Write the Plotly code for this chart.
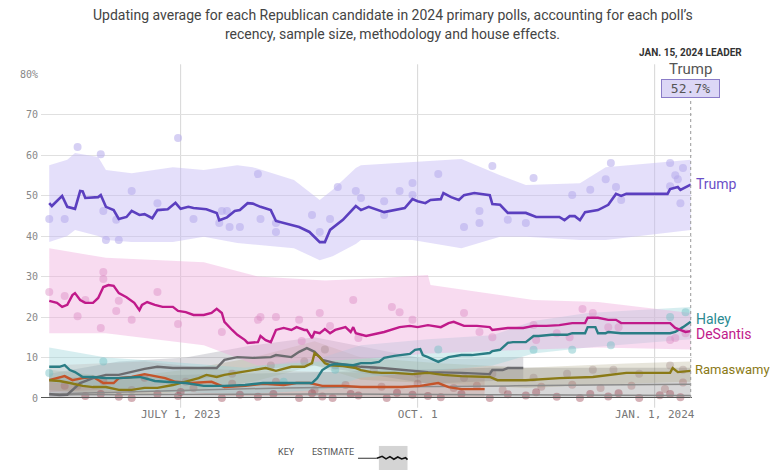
import plotly.graph_objects as go

# ---------------- data (x = days since July 1, 2023) ----------------
tick_days = [0, 92, 184]
tick_labels = ["JULY 1, 2023", "OCT. 1", "JAN. 1, 2024"]
y_ticks = [0, 10, 20, 30, 40, 50, 60, 70, 80]
y_tick_labels = ["0", "10", "20", "30", "40", "50", "60", "70", "80%"]

trump_days = [-51,-50,-46,-44,-41,-39,-38,-37,-32,-31,-29,-26,-24,-21,-19,-16,-14,-11,-9,-5,
              -2,0,3,5,10,14,15,18,21,23,26,28,31,35,37,40,44,46,50,54,
              56,58,63,68,70,73,79,87,90,92,95,97,101,102,105,108,110,114,120,121,
              124,127,134,138,147,149,151,153,155,157,162,166,169,171,173,189,190,193,194,198]
trump_vals = [48.1,47.4,49.9,47.2,46.7,51.1,51.0,49.4,49.6,50.1,47.2,46.4,44.2,44.7,46.2,45.2,45.4,44.4,46.4,46.6,
              48.2,46.7,47.2,46.9,46.6,45.7,43.9,44.6,46.2,46.4,48.1,48.0,47.2,46.4,43.7,43.2,42.5,42.2,41.0,38.5,
              38.5,41.5,44.0,47.4,46.4,47.2,45.9,46.9,49.1,48.6,48.1,48.9,49.1,50.6,49.6,48.9,50.1,50.6,50.1,47.9,
              47.7,45.7,45.7,44.7,44.7,43.9,44.9,44.9,43.9,45.9,46.4,47.7,50.4,49.9,50.4,50.4,51.6,52.1,51.4,52.7]

desantis_days = [-51,-48,-46,-44,-42,-41,-39,-37,-34,-32,-30,-28,-26,-24,-21,-18,-16,-15,-13,-10,
                 -7,-3,-1,2,5,9,12,14,16,17,20,22,25,26,30,31,33,35,37,40,
                 43,45,48,49,51,52,54,56,58,60,64,66,67,68,72,77,79,85,89,92,
                 96,101,104,106,110,115,120,121,123,124,127,133,137,142,147,152,155,157,158,162,
                 166,169,171,190,192,194,196,198]
desantis_vals = [24,23.5,22.5,23,25.4,25.9,24.2,23.5,23.5,24.7,27.4,27.9,27.7,25.9,24.9,23.5,21.7,23,23.7,23,
                 22.5,22.5,21.5,21.2,20.5,20.5,21,22,21,18.8,16.8,15.6,14.3,13.6,13.8,15.3,14.3,13.8,16.8,17.3,
                 16.8,17.5,16.8,16.8,14.8,16.3,16,17,16,16.8,17.5,16.3,17.5,16,15.3,16,16.3,17.5,17.8,17.5,
                 18,17.5,18.5,18.8,17.8,17.8,17.5,16.8,17,17,17.3,17.3,17.8,17.8,18,18.5,18.5,18.5,19.8,19.8,
                 19.3,19.3,18.5,18.5,17.3,16.8,16.3,16.5]

haley_days = [-51,-47,-45,-43,-41,-38,-34,-29,-24,-19,-16,-14,-10,-6,2,9,17,25,32,40,
              48,51,53,55,58,60,67,70,74,77,79,83,89,91,93,94,96,98,100,104,
              109,113,120,121,124,127,129,134,136,137,139,144,150,152,155,157,158,161,162,165,
              166,171,190,192,195,198]
haley_vals = [7.7,7.7,8.1,6.9,6.4,5.2,5.2,4.9,4.9,5.2,5.2,4.9,4.2,4.0,3.7,3.0,3.0,3.2,3.7,3.7,
              3.7,3.7,4.9,6.9,8.1,8.4,8.1,8.6,8.6,8.9,9.9,10.4,10.9,11.9,12.1,10.6,10.1,9.4,8.9,10.1,
              10.6,10.6,11.1,11.6,11.9,13.6,13.8,13.8,14.8,15.3,15.3,15.6,15.6,16,16,16,17.5,17.5,16,16,
              16.3,16,16,16.3,17.5,18.8]

rama_days = [-51,-47,-43,-38,-34,-29,-24,-19,-14,-9,-3,2,7,10,14,17,22,28,33,37,
             43,48,51,52,54,56,58,63,68,70,74,78,83,90,96,102,109,120,121,123,
             134,147,160,167,173,190,191,193,198]
rama_vals = [4.4,4.2,3.7,3.0,2.7,2.7,2.0,2.0,2.5,2.5,3.2,4.0,4.9,5.7,5.2,5.7,6.2,6.9,7.4,6.7,
             7.7,7.7,8.6,11.1,10.1,8.6,8.1,7.9,7.4,6.9,6.4,6.2,6.2,5.9,6.2,5.7,5.4,5.2,4.9,4.4,
             4.4,4.9,5.2,5.7,6.2,6.2,7.4,6.4,6.7]

gray_days = [-51,-47,-44,-39,-34,-29,-24,-19,-14,-9,-3,2,7,14,17,22,28,35,37,43,
             46,49,52,55,60,67,70,78,86,96,109,120,121,125,127,133]
gray_vals = [1.0,0.7,0.8,3.7,4.9,5.7,5.7,6.4,7.2,7.7,7.4,7.4,7.4,7.4,9.4,10.1,9.9,10.1,10.6,10.1,
             11.4,12.3,11.4,9.4,8.6,8.1,7.7,7.4,6.9,6.4,6.2,5.9,6.9,6.9,7.4,7.4]

pence_days = [-51,-48,-45,-42,-38,-34,-30,-26,-24,-19,-14,-10,-6,-2,4,12,17,25,32,40,
              45,50,55,63,70,78,86,93,100,104,109,118]
pence_vals = [4.4,4.9,5.4,4.4,4.9,5.2,3.7,3.7,4.9,5.2,5.9,5.4,4.9,4.0,3.7,4.0,2.7,3.0,3.5,3.2,
              3.7,3.7,3.0,3.0,2.7,2.7,2.7,3.0,3.7,2.7,2.2,2.2]

christie_days = [-51,-20,10,40,70,100,130,160,198]
christie_vals = [1.0,1.5,2.0,2.5,2.7,2.8,3.0,3.2,3.4]
minor_days = [-51,0,60,120,198]
minor_vals = [0.8,0.9,1.0,0.8,0.6]

# uncertainty bands
trump_band_days = [-51,-44,-41,-32,-29,-19,-3,9,22,28,44,54,59,68,70,90,109,124,134,155,165,198]
trump_upper = [57.5,58.8,60.5,59.5,56.3,55.5,57,56.3,57.5,57,53.8,48.9,51.4,56.8,57.5,58.3,59,55,52.6,53,57,58.8]
trump_lower = [38.5,40,41.5,40,39,38.5,38.5,39.8,38.3,38,37,34,35,38,39,39,37,39.8,39.8,39,39,41.5]

desantis_band_days = [-51,-29,9,30,56,78,96,97,137,162,198]
desantis_upper = [37,34.6,33.5,30,29,29.6,30.4,27.9,24.2,23.7,21]
desantis_lower = [16,16,13,8,9,10,11,11,12,12.5,12]

haley_band_days = [-51,-29,-6,25,55,70,96,121,137,158,198]
haley_upper = [12.5,10,9,7.5,10,13,14.5,15.5,19,21,22.5]
haley_lower = [4,2,1.5,1,2,5,6.5,8,11,12.5,14.5]

rama_band_days = [-51,-24,2,28,52,70,102,134,173,198]
rama_upper = [7,5,7,10,14,10,8.5,7.5,8.5,9]
rama_lower = [2,0.5,1.5,4,8,4.5,3.5,2.5,3.5,4]

gray_band_days = [-51,-24,2,28,52,96,133]
gray_upper = [6,9,10,13,15,9.5,10]
gray_lower = [0,2,4,7,8,3.5,4.5]

pence_band_days = [-51,-14,17,55,109,118]
pence_upper = [8,9,7,6.5,5.5,5.5]
pence_lower = [1.5,2.5,0.5,0.5,0,0]

misc_band_days = [-51,60,120,198]
misc_upper = [5,6.5,7.5,7.5]
misc_lower = [0,0,0,0]

# poll dots
trump_poll_days = [-51,-45,-40,-31,-19,-9,-1,5,15,16,18,19,23,30,31,-30,-25,-29,-24,37,
                   37,51,54,58,61,68,70,79,79,85,90,90,100,110,116,116,121,127,134,137,
                   152,159,165,167,169,171,190,192,193,195,194,190]
trump_poll_vals = [44.2,44.2,62,60.2,51.1,48.1,64.2,44.2,43.2,46.2,46.2,42.2,42.2,55.3,44.2,46.2,44,39,39,43.2,
                   41,45.2,41,44.2,52.1,51.1,49.4,48.6,45.2,51.1,53.1,50.1,55.3,42.2,46.2,43.2,57.3,44,43.2,54.3,
                   50.1,51.4,54,58,52.1,48.9,58,55,54,56.8,48.1,52.3]
desantis_poll_days = [-51,-45,-40,-37,-31,-30,-30,-25,-24,-19,-9,-1,16,30,31,37,46,47,54,58,
                      67,69,82,85,90,110,116,121,137,138,146,151,156,160,166,170,190,192,196]
desantis_poll_vals = [26.2,25.2,20.2,24.2,17.3,31.1,29.4,21.5,24,19.3,26.2,18.3,16.3,19.3,20,20,19.3,14.1,21,17.8,
                      24.2,14.8,22.5,21.2,19.3,21,16.3,15,18,14.3,16,15,22,21,17.5,17.5,14.3,14.8,16]
haley_poll_days = [-51,-30,40,60,100,137,152,167,190,196]
haley_poll_vals = [6.2,9,4,7,12,11.9,11.9,13,20,21.2]
rama_poll_days = [-40,-19,2,20,35,48,56,60,75,92,110,121,137,150,160,168,178,190,195]
rama_poll_vals = [3,2,4,6,8,9,12,8,7,6,5,6,5,6,7,7,6,8,7]
mid_poll_days = [-45,-30,-14,5,20,37,52,64,78,92,106,115,125,140,152,163,175,188,195]
mid_poll_vals = [3,4.2,5,2.5,3.5,4,2,3.2,2.8,3.5,2.5,3,2,2.8,3.3,2.5,3,2.2,3.8]
low_poll_days = [-37,-31,-24,-19,-9,-1,0,16,23,30,36,46,51,55,59,66,69,80,84,90,
                 96,101,109,120,127,134,138,146,155,159,166,170,178,186,190,194]
low_poll_vals = [0.5,1,0.3,0,1,0.5,1.5,0,0.8,0.3,1,0,1.2,0.4,0,1,0.6,0,1.3,0.8,
                 0.5,0.2,1,0,0.9,0.6,1.4,0.3,0,1,0.4,1.2,0,0.7,1,0.2]

leader_name = "Trump"
leader_date = "JAN. 15, 2024 LEADER"
title_lines = ["Updating average for each Republican candidate in 2024 primary polls, accounting for each poll’s",
               "recency, sample size, methodology and house effects."]

# ---------------- figure ----------------
fig = go.Figure()

def band(days, up, lo, color):
    fig.add_trace(go.Scatter(x=days + days[::-1], y=up + lo[::-1], fill="toself",
                             fillcolor=color, line=dict(width=0), mode="lines",
                             hoverinfo="skip", showlegend=False))

band(misc_band_days, misc_upper, misc_lower, "rgba(110,110,115,0.28)")
band(pence_band_days, pence_upper, pence_lower, "rgba(190,120,110,0.22)")
band(gray_band_days, gray_upper, gray_lower, "rgba(120,120,135,0.25)")
band(rama_band_days, rama_upper, rama_lower, "rgba(160,150,110,0.25)")
band(haley_band_days, haley_upper, haley_lower, "rgba(150,210,215,0.38)")
band(desantis_band_days, desantis_upper, desantis_lower, "rgba(238,170,220,0.42)")
band(trump_band_days, trump_upper, trump_lower, "rgba(195,185,245,0.45)")

def dots(days, vals, color):
    fig.add_trace(go.Scatter(x=days, y=vals, mode="markers", cliponaxis=False,
                             marker=dict(size=8, color=color, line=dict(width=0)),
                             hoverinfo="skip", showlegend=False))

dots(low_poll_days, low_poll_vals, "rgba(150,60,75,0.4)")
dots(mid_poll_days, mid_poll_vals, "rgba(160,90,90,0.3)")
dots(rama_poll_days, rama_poll_vals, "rgba(150,120,120,0.3)")
dots(haley_poll_days, haley_poll_vals, "rgba(110,190,195,0.45)")
dots(desantis_poll_days, desantis_poll_vals, "rgba(220,140,195,0.45)")
dots(trump_poll_days, trump_poll_vals, "rgba(180,170,235,0.55)")

def line(days, vals, color, w=2.4):
    fig.add_trace(go.Scatter(x=days, y=vals, mode="lines", line=dict(color=color, width=w),
                             hoverinfo="skip", showlegend=False))

line(minor_days, minor_vals, "#8a8a8a", 1.5)
line(christie_days, christie_vals, "#8c8c8c", 1.5)
line(pence_days, pence_vals, "#c4542a")
line(gray_days, gray_vals, "#6c6c70")
line(rama_days, rama_vals, "#8a7a16")
line(haley_days, haley_vals, "#2a7d85")
line(desantis_days, desantis_vals, "#c01a8a")
line(trump_days, trump_vals, "#5b3fbf", 2.6)

# vertical date gridlines (extend beyond plot)
shapes = []
for d in tick_days:
    shapes.append(dict(type="line", xref="x", yref="paper", x0=d, x1=d, y0=-0.03, y1=1.03,
                       line=dict(color="#d6d6d6", width=1), layer="below"))
# baseline
shapes.append(dict(type="line", xref="paper", yref="y", x0=0, x1=1, y0=0, y1=0,
                   line=dict(color="#555", width=2)))
# leader dotted line
shapes.append(dict(type="line", xref="x", yref="y", x0=trump_days[-1], x1=trump_days[-1],
                   y0=0, y1=74.5, line=dict(color="#999", width=1, dash="dot")))
# key box
shapes.append(dict(type="rect", xref="paper", yref="paper", x0=0.519, x1=0.563, y0=-0.225, y1=-0.148,
                   fillcolor="#d4d4d4", line=dict(width=0)))
shapes.append(dict(type="line", xref="paper", yref="paper", x0=0.487, x1=0.516, y0=-0.186, y1=-0.186,
                   line=dict(color="#333", width=1)))
shapes.append(dict(type="path", xref="paper", yref="paper",
                   path="M0.516,-0.186 L0.524,-0.180 L0.530,-0.188 L0.536,-0.181 L0.542,-0.189 "
                        "L0.548,-0.182 L0.554,-0.188 L0.560,-0.184 L0.563,-0.190",
                   line=dict(color="#111", width=1.6)))

annotations = [
    dict(xref="paper", yref="paper", x=0.540, y=1.182, text=title_lines[0], showarrow=False,
         xanchor="center", yanchor="middle", font=dict(family="Roboto", size=14, color="#444")),
    dict(xref="paper", yref="paper", x=0.540, y=1.125, text=title_lines[1], showarrow=False,
         xanchor="center", yanchor="middle", font=dict(family="Roboto", size=14, color="#444")),
    dict(x=trump_days[-1], y=trump_vals[-1], text="Trump", xanchor="left", xshift=3, yshift=1,
         showarrow=False, font=dict(family="Roboto", size=14, color="#6a4fc7")),
    dict(x=haley_days[-1], y=haley_vals[-1], text="Haley", xanchor="left", xshift=3, yshift=3,
         showarrow=False, font=dict(family="Roboto", size=14, color="#2a8a92")),
    dict(x=desantis_days[-1], y=desantis_vals[-1], text="DeSantis", xanchor="left", xshift=3, yshift=-3,
         showarrow=False, font=dict(family="Roboto", size=14, color="#c01a8a")),
    dict(x=rama_days[-1], y=rama_vals[-1], text="Ramaswamy", xanchor="left", xshift=2, yshift=1,
         showarrow=False, font=dict(family="Roboto", size=13, color="#8a7a16")),
    dict(x=trump_days[-1], yref="paper", y=1.065, yanchor="middle", text=leader_date, showarrow=False,
         xanchor="center", font=dict(family="Roboto", size=10, color="#333", weight="bold")),
    dict(x=trump_days[-1], yref="paper", y=1.015, yanchor="middle", text=leader_name, showarrow=False,
         xanchor="center", font=dict(family="Roboto", size=15, color="#555")),
    dict(x=trump_days[-1], yref="paper", y=0.955, yanchor="middle", text=f" {trump_vals[-1]:.1f}% ",
         showarrow=False, xanchor="center", bgcolor="#dcd7f6", bordercolor="#8a7cc8", borderwidth=1,
         borderpad=1, font=dict(family="DejaVu Sans Mono", size=13, color="#555")),
    dict(xref="paper", yref="paper", x=0.377, y=-0.187, text="KEY", showarrow=False,
         font=dict(family="Roboto", size=9, color="#555")),
    dict(xref="paper", yref="paper", x=0.448, y=-0.187, text="ESTIMATE", showarrow=False,
         font=dict(family="Roboto", size=9, color="#555")),
]

# body has an 8px margin in the page, so the figure is sized/margined to land in place
fig.update_layout(
    width=772, height=462,
    margin=dict(l=27, r=88, t=66, b=72),
    paper_bgcolor="white", plot_bgcolor="white",
    xaxis=dict(range=[-54.2, 198.5], tickvals=tick_days, ticktext=tick_labels, showgrid=False,
               zeroline=False, showline=False, ticks="", ticklabelstandoff=8,
               tickfont=dict(family="DejaVu Sans Mono", size=11, color="#777")),
    yaxis=dict(range=[0, 80], tickvals=y_ticks, ticktext=y_tick_labels, showgrid=True,
               gridcolor="#e0e0e0", gridwidth=1, zeroline=False, showline=False, ticks="",
               ticklabelstandoff=2,
               tickfont=dict(family="DejaVu Sans Mono", size=10, color="#888")),
    shapes=shapes, annotations=annotations,
)

fig.write_html("out.html")
